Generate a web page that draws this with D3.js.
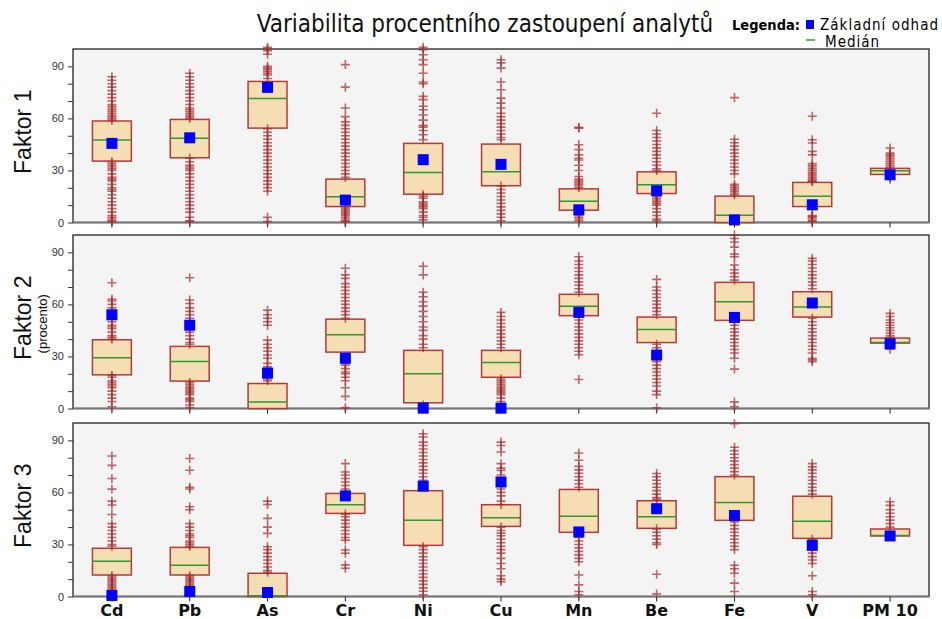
<!DOCTYPE html>
<html>
<head>
<meta charset="utf-8">
<script src="https://cdnjs.cloudflare.com/ajax/libs/d3/7.8.5/d3.min.js"></script>
<style>
body{margin:0;background:#fff}
svg text{font-family:"Liberation Sans",Arial,sans-serif}
</style>
</head>
<body>
<div id="chart"></div>
<script>
var categories = ["Cd","Pb","As","Cr","Ni","Cu","Mn","Be","Fe","V","PM 10"]
var factorNames = ["Faktor 1","Faktor 2","Faktor 3"]
var yTicks = [0,30,60,90]

// Faktor 1
var f1Q1 = [35.4,37.3,54.4,9.2,16.3,21.2,7.1,16.7,0,9.2,27.7]
var f1Med = [47.5,48.5,71.5,14.8,28.8,29.2,12.3,21.7,4.2,15.2,29.8]
var f1Q3 = [58.5,59.4,81.3,25,45.6,45.2,19.4,29.2,15.2,23.1,31.2]
var f1Base = [45.6,48.8,77.9,12.9,36.2,33.5,7.3,18.3,1.5,10.2,27.5]
var f1Out = [
	[84,82,80,78,76,74,72,70,68,67,66,65,64,63,62,61,60,59,35,34,33,32,31,30,28,26,25,24,22,20,19,18,16,14,12,10,8,6,4,3,2,1,0.5],
	[86,84,82,80,78,76,74,72,70,68,66,65,64,63,62,61,60,37,35,33,32,31,30,28,26,24,22,20,18,16,14,12,10,8,6,3,1,0.5],
	[101,100,99,97,90,89,88,87,86,85,83,54,52,50,48,46,44,42,40,38,36,34,32,30,28,26,24,22,20,18,3,0.5],
	[91,78,66,61,58,56,54,52,50,48,46,44,42,40,38,36,34,32,30,28,26,9,8,7,6,5,4,3,2,1,0.5],
	[101,99.6,96.7,93.8,91,86,81,80,72.7,70.8,67,65,62,59,56,55,53,50.6,47.7,16,15,14,12,11,10,9,8,6,4,3,1.5],
	[93.8,92,89,81,76.5,71.7,68.8,66,63,61,59,57,55,53,51,49,47.7,21,19,17,15,13,11,9,7,5,3,1],
	[54.8,54.4,44.8,42,39,37,36,33,30,26.5,25,24,23,22,21,20,6,5,4,3,2,1],
	[63,53,51,49,47,45,43,41,39,37,35,33,31,30,16,15,14,13,12,11,10,8,6,4,2,1],
	[72,48,46,44,42,40,38,36,34,32,30,28,22,21,20,19,18,17,16],
	[61.2,47.7,45.8,41,39,34,33,32,31,30,29,28,27,26,25,24,23.6,8,4,3.5,3,2,1,0.6],
	[42.9,40,39,38,37,36,35,34,33,32,31.3,26,25]
]

// Faktor 2
var f2Q1 = [19.4,15.8,0,32.5,3.3,18,53.5,38,50.8,52.7,37.7]
var f2Med = [29.2,27.1,3.7,42.5,20,26.5,59,45.6,61.5,58.5,38]
var f2Q3 = [39.6,35.8,14.4,51.5,33.5,33.5,65.8,52.7,72.7,67.3,40.6]
var f2Base = [54,48,20.4,29,0.2,0.2,55.4,30.8,52.5,60.8,37.3]
var f2Out = [
	[72.5,63,62,60,58,56,54,52,50,48,47,46,44,42,41,40,19,18,16,15,14,13,12,10,8,6,4,1],
	[75.4,62.5,60.5,58,56,54,52,50,48,46,44,42,40,38,37,15,14,13,12,11,10,9,8,6,5,4,2,0.5],
	[56.7,54,52,50,48,39.4,37,35,33,30.8,29,26,24,22,18,17,16],
	[80.8,77,75,72,70,68,66,64,62,60,58,56,54,52,28,26,25,23,21,20,18,16,12,7,0.5],
	[82,77,67,64.4,61.5,59,56,53,50,47,45,42,40,37,35,2,1],
	[55.4,53,51,49,47,45,43,41,39,37,35,17,16,15,14,13,12,11,10,9,8,6,4,2],
	[87.5,85,83,81,79,77,75,73,71,69,67,52.9,51,49,47,45,43,41,39,37,35,33,31,16.7],
	[74.4,70,68,66,64,62,60,58,56,54,37,35,33,31,29,27,25,23,21,19,17,15,13,10,8,0.4],
	[100,98,96,93,89,87.5,82.7,80,78,76,74,50,48,46,44,42,40,38,36,34,32,29,22.7,3.8,1],
	[86.5,85,83,81,79,77,75,73,71,69,52,50,48,46,44,42,40,38,36,34,32,29,28,27],
	[54.8,53,51,49.5,48,46.5,45,43.5,42,41,36.5,34.2]
]

// Faktor 3
var f3Q1 = [12.4,12.4,0,47.9,29.5,40.4,37,39.3,43.9,33.5,34.9]
var f3Med = [20.3,18,0.4,52.9,43.9,45.4,46.3,46,54.2,43.3,35.2]
var f3Q3 = [27.8,28.3,13.4,59.4,61,52.9,61.7,55.2,69.1,57.8,38.9]
var f3Base = [0.6,2.9,2.3,58,63.6,66,37.2,50.6,46.7,29.5,34.9]
var f3Out = [
	[81,75.6,68,61.9,55,52.7,47.3,42,40,38,36,34,32,30,29,12,11,10,9,8,7,6,5,4,3],
	[79.5,72.8,63,62,51.7,50,42,40,38,36,35,34,32,31,30,29,12,11,10,9,8,7,6,5,4,3],
	[55,53,45,40,36.4,28.7,27,25,23,21,19,17,15,14],
	[76.6,71.8,70,68,66,64,62,60,47.5,46,44,42,40,38,36,34,32.5,26.8,24.9,18.2,16.3],
	[93.8,91.9,89,87,85,83,81,79,77,75,73,71,69,67,65,28.7,27,25,23,21,19,17,15,13,11,9,7,5,3,1],
	[89,87,83.3,76.6,74,72.7,70,64,62,60,58,55,53,40,38,36.5,35,33,31,29,27,25,22,19,16,12,10,8.6],
	[82.7,78.5,75,73,71,69,67,65,63,36.4,34,32,30,28,26,24,22,20,12.4,6.7,2.9,1],
	[70.9,69,67,65,63,61,59,57,56,39,37,35,33,31,30,12.8,1.5],
	[99.6,86,84,82,80,78,76,74,72,70,43,41,39,37,35,33,31,29,27,18,16,13.4,7.7,2.9],
	[76.6,74.7,73,71,69,67,65,63,61,59,33,31,29,27,25,23,21,19,12,2.9,1],
	[54.6,52.5,50,48,46,44,42,40]
]

var panels = [
	{q1:f1Q1,med:f1Med,q3:f1Q3,base:f1Base,out:f1Out},
	{q1:f2Q1,med:f2Med,q3:f2Q3,base:f2Base,out:f2Out},
	{q1:f3Q1,med:f3Med,q3:f3Q3,base:f3Base,out:f3Out}
]

var w = 942
var h = 619
var left = 73
var right = 929
var panelTops = [49,235,423]
var panelH = 173.5
var condensed = "'DejaVu Sans Condensed','Liberation Sans Narrow',sans-serif"

var svg = d3.select("#chart").append("svg").attr("width",w).attr("height",h)

var x = d3.scaleBand().domain(categories).range([left,right]).padding(0)
var boxW = x.bandwidth()*0.5

svg.append("text").text("Variabilita procentního zastoupení analytů")
	.attr("x",485).attr("y",32).attr("text-anchor","middle")
	.style("font-family",condensed)
	.style("font-size","24px").attr("fill","#111")

// legend
svg.append("text").text("Legenda:").attr("x",732).attr("y",30)
	.style("font-family",condensed)
	.style("font-weight","bold").style("font-size","14.5px")
	.attr("textLength",68).attr("lengthAdjust","spacing")
svg.append("rect").attr("x",806).attr("y",20).attr("width",8).attr("height",9).attr("fill","#0000ff")
svg.append("text").text("Základní odhad").attr("x",820).attr("y",30)
	.style("font-family",condensed)
	.style("font-size","15px")
	.attr("textLength",118).attr("lengthAdjust","spacing")
svg.append("line").attr("x1",806).attr("x2",815).attr("y1",40).attr("y2",40).attr("stroke","#2f9a2f").attr("stroke-width",1.5)
svg.append("text").text("Medián").attr("x",825).attr("y",47)
	.style("font-family",condensed)
	.style("font-size","15px")
	.attr("textLength",54).attr("lengthAdjust","spacing")

var plus = "M-4.5,0H4.5M0,-4.5V4.5"

panels.forEach(function(p,pi){
	var top = panelTops[pi]
	var y = d3.scaleLinear().domain([0,100]).range([top+panelH,top])
	var g = svg.append("g")

	g.append("rect").attr("x",left).attr("y",top).attr("width",right-left).attr("height",panelH)
		.attr("fill","#f4f4f4").attr("stroke","#222").attr("stroke-width",1.3)
	g.append("line").attr("x1",left).attr("x2",right).attr("y1",top+panelH).attr("y2",top+panelH)
		.attr("stroke","#777").attr("stroke-width",2)

	// y axis
	var yAxis = d3.axisLeft(y).tickValues(d3.range(0,100,10)).tickSize(5)
		.tickFormat(function(d){return yTicks.indexOf(d)>-1 ? d : ""})
	var ya = g.append("g").attr("transform","translate("+left+",0)").call(yAxis)
	ya.select(".domain").remove()
	ya.selectAll("line").attr("stroke","#333")
	ya.selectAll("text").style("font-size","11px").attr("fill","#333").attr("x",-9)

	// x axis ticks
	var xAxis = d3.axisBottom(x).tickSize(5).tickFormat(pi==2 ? null : "")
	var xa = g.append("g").attr("transform","translate(0,"+(top+panelH)+")").call(xAxis)
	xa.select(".domain").remove()
	xa.selectAll("line").attr("stroke","#222")
	xa.selectAll("text").style("font-size","16px").style("font-weight","bold")
		.style("font-family","'DejaVu Sans','Liberation Sans',sans-serif").attr("fill","#111").attr("y",8)

	categories.forEach(function(c,i){
		var cx = x(c)+x.bandwidth()/2
		g.append("rect").attr("x",cx-boxW/2).attr("width",boxW)
			.attr("height",y(p.q1[i])-y(p.q3[i]))
			.attr("fill","#f5deb3").attr("stroke","#b53a3a").attr("stroke-width",1.5)
			.attr("y",y(p.q3[i]))
		g.selectAll(null).data(p.out[i]).enter().append("path")
			.attr("d",plus)
			.attr("transform",function(d){return "translate("+cx+","+y(d)+")"})
			.attr("stroke","#a52a2a").attr("stroke-width",1.6).attr("stroke-opacity",0.7).attr("fill","none")
		g.append("line").attr("x1",cx-boxW/2).attr("x2",cx+boxW/2)
			.attr("y1",y(p.med[i])).attr("y2",y(p.med[i]))
			.attr("stroke","#2f9a2f").attr("stroke-width",1.5)
		g.append("rect").attr("x",cx-5.5).attr("y",y(p.base[i])-5.5).attr("width",11).attr("height",11)
			.attr("fill","#0000ff")
	})

	svg.append("text").attr("transform","translate(31,"+(top+panelH/2-4)+") rotate(-90)")
		.attr("text-anchor","middle").style("font-size","23px").attr("fill","#111")
		.text(factorNames[pi])
	if(pi==1){
		svg.append("text").attr("transform","translate(47,"+(top+panelH/2+2)+") rotate(-90)")
			.attr("text-anchor","middle").style("font-size","13px").attr("fill","#111").text("(procento)")
	}
})
</script>
</body>
</html>
